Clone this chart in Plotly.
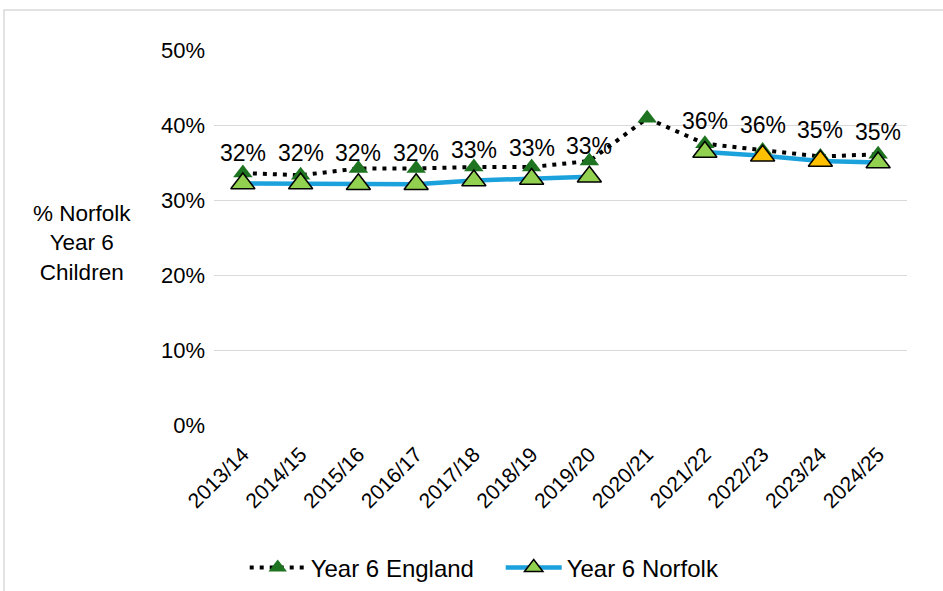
import plotly.graph_objects as go

# School years on the x axis
years = ["2013/14", "2014/15", "2015/16", "2016/17", "2017/18", "2018/19",
         "2019/20", "2020/21", "2021/22", "2022/23", "2023/24", "2024/25"]

# Share of Year 6 children (fraction); Norfolk has no figure for 2020/21
england = [0.336, 0.333, 0.342, 0.342, 0.344, 0.344, 0.352, 0.409, 0.375, 0.366, 0.358, 0.361]
norfolk = [0.322, 0.322, 0.321, 0.321, 0.326, 0.328, 0.331, None, 0.364, 0.359, 0.352, 0.350]

# Norfolk marker fill per year (amber highlights two years)
norfolk_fill = ["#92D050"] * 9 + ["#FFC000", "#FFC000"] + ["#92D050"]

y_ticks = [0, 0.1, 0.2, 0.3, 0.4, 0.5]

FONT = "Liberation Sans, Arial, sans-serif"

fig = go.Figure()

fig.add_trace(go.Scatter(
    x=years, y=england, name="Year 6 England",
    mode="lines+markers",
    line=dict(color="#000000", width=4, dash="4px,6px"),
    marker=dict(symbol="triangle-up", size=17, color="#1E7420"),
))

fig.add_trace(go.Scatter(
    x=years, y=norfolk, name="Year 6 Norfolk",
    mode="lines+markers", connectgaps=False,
    line=dict(color="#1BA1DC", width=4.5),
    marker=dict(symbol="triangle-up", size=21, color=norfolk_fill,
                line=dict(color="#000000", width=1.5)),
))

# Value labels above the Norfolk points
for yr, v in zip(years, norfolk):
    if v is None:
        continue
    fig.add_annotation(
        x=yr, y=v, text=f"{round(v * 100):.0f}%", showarrow=False,
        yshift=31, font=dict(family=FONT, size=23, color="#000000"),
    )

# Horizontal axis title on the left
fig.add_annotation(
    xref="paper", yref="paper", x=-0.19, y=0.485,
    xanchor="center", yanchor="middle",
    text="% Norfolk<br>Year 6<br>Children", showarrow=False,
    align="center", font=dict(family=FONT, size=22.5, color="#000000"),
)

# Light chart frame
fig.add_shape(
    type="rect", xref="paper", yref="paper",
    x0=-0.303, x1=1.2, y0=-0.7, y1=1.107,
    line=dict(color="#D9D9D9", width=1.5), fillcolor="rgba(0,0,0,0)",
)

fig.update_layout(
    width=943, height=591,
    margin=dict(l=214, r=36, t=50, b=166, autoexpand=False),
    paper_bgcolor="#FFFFFF", plot_bgcolor="#FFFFFF",
    font=dict(family=FONT, size=22, color="#000000"),
    showlegend=True,
    legend=dict(
        orientation="h", xref="container", yref="container",
        x=0.2595, xanchor="left", y=0.039, yanchor="middle",
        font=dict(family=FONT, size=24, color="#000000"),
        tracegroupgap=0, itemwidth=56,
        entrywidth=185, entrywidthmode="pixels",
    ),
    xaxis=dict(
        type="category", range=[-0.5, 11.5], tickangle=-45,
        showgrid=False, zeroline=False, automargin=False,
        showline=False, ticks="", tickfont=dict(family=FONT, size=21),
        ticklabelstandoff=12,
    ),
    yaxis=dict(
        range=[0, 0.5], tickvals=y_ticks, tickformat=".0%",
        showgrid=True, gridcolor="#D9D9D9", gridwidth=1.3,
        zeroline=False, showline=False, ticks="", automargin=False,
        tickfont=dict(family=FONT, size=22), ticklabelstandoff=8,
    ),
)

fig.write_html("out.html")
